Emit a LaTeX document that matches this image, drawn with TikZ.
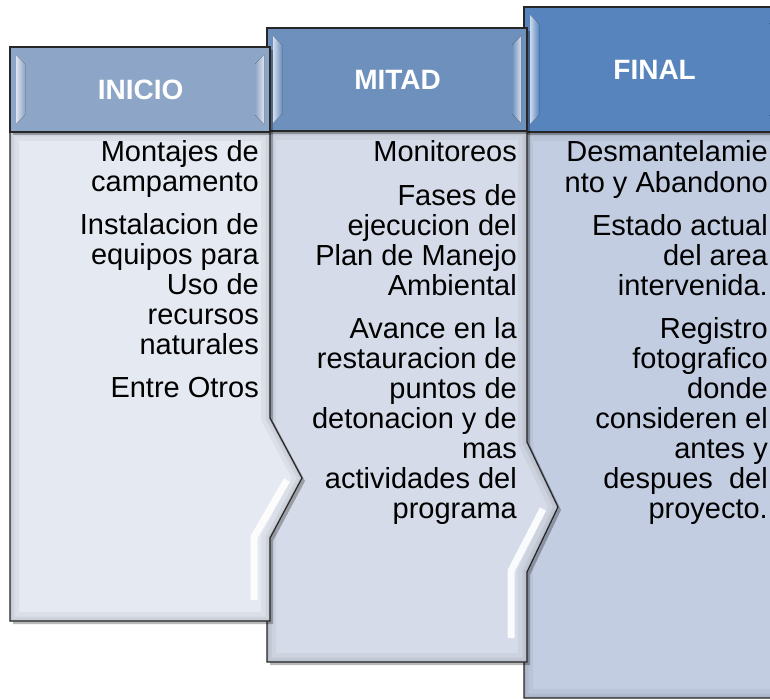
\documentclass[tikz,border=0pt]{standalone}
\usepackage{fontspec}
\setmainfont{Liberation Sans}
\definecolor{hA}{HTML}{8DA5C6}
\definecolor{hB}{HTML}{6E90BD}
\definecolor{hC}{HTML}{5884BE}
\definecolor{bA}{HTML}{E4E9F2}
\definecolor{bB}{HTML}{D5DBE8}
\definecolor{bC}{HTML}{C2CDE1}
\tikzset{
  outline/.style={draw=black!85, line width=1.2pt, line join=miter},
  headbox/.style={rectangle, outline, inner sep=0pt, anchor=north west,
    text=white, font={\fontsize{28}{30}\selectfont\bfseries}},
  bodytext/.style={inner sep=0pt, align=right, anchor=north east,
    font={\fontsize{29}{30}\selectfont}},
  shade box/.style={fill=black, opacity=0.28},
  highlight/.style={draw=white, line width=7pt, opacity=0.9, line cap=butt},
}
\newcommand\innershade[1]{%
  \begin{scope}
    \clip #1;
    \draw[black, opacity=0.04, line width=18pt] #1;
    \draw[black, opacity=0.05, line width=9pt] #1;
    \draw[black, opacity=0.07, line width=3pt] #1;
  \end{scope}}
\newcommand\bevels[5]{% x0 y0 x1 y1 colour
  \fill[left color=white!70!#5, right color=#5] (#1+6,#2+8) -- (#1+15,#2+17) -- (#1+15,#4-17) -- (#1+6,#4-8) -- cycle;
  \fill[right color=white!70!#5, left color=#5] (#3-6,#2+8) -- (#3-15,#2+17) -- (#3-15,#4-17) -- (#3-6,#4-8) -- cycle;}
\begin{document}
\begin{tikzpicture}[x=1pt,y=-1pt]
\useasboundingbox (0,0) rectangle (770,700);
\clip (0,0) rectangle (770,700);
\fill[white] (0,0) rectangle (770,700);

% ---------- FINAL ----------
\def\pC{(524,132) -- (784,132) -- (784,460) -- (815,525) -- (784,590) -- (784,698) -- (524,698) -- cycle}
\fill[bC] \pC;
\innershade{\pC}
\draw[outline] \pC;
\fill[shade box] (527,10) rectangle (787,135);
\node[headbox, fill=hC, minimum width=260pt, minimum height=125pt] (hC) at (524,7) {};
\bevels{524}{7}{784}{132}{hC}
\draw[outline] (524,7) rectangle (784,132);
\node[text=white, font={\fontsize{28}{30}\selectfont\bfseries}] (tC) at (hC.center) {FINAL};
\node[bodytext] (bC) at (768,140.7) {\strut Desmantelamie\\nto y Abandono\\[13pt]Estado actual\\del area\\intervenida.\\[13pt]Registro\\fotografico\\donde\\consideren el\\antes y\\despues\ \ del\\proyecto.};

% ---------- MITAD ----------
\def\pB{(267,131) -- (527,131) -- (527,442) -- (558,507) -- (527,572) -- (527,662) -- (267,662) -- cycle}
\fill[shade box] (270,134) -- (530,134) -- (530,445) -- (561,510) -- (530,575) -- (530,665) -- (270,665) -- cycle;
\fill[bB] \pB;
\innershade{\pB}
\draw[highlight] (543,509) -- (511,571) -- (511,638);
\draw[outline] \pB;
\fill[shade box] (270,31) rectangle (530,134);
\node[headbox, fill=hB, minimum width=260pt, minimum height=103pt] (hB) at (267,28) {};
\bevels{267}{28}{527}{131}{hB}
\draw[outline] (267,28) rectangle (527,131);
\node[text=white, font={\fontsize{28}{30}\selectfont\bfseries}] (tB) at (hB.center) {MITAD};
\node[bodytext] (bB) at (517,140.7) {\strut Monitoreos\\[13pt]Fases de\\ejecucion del\\Plan de Manejo\\Ambiental\\[13pt]Avance en la\\restauracion de\\puntos de\\detonacion y de\\mas\\actividades del\\programa};

% ---------- INICIO ----------
\def\pA{(10,132) -- (270,132) -- (270,418) -- (302,478) -- (270,538) -- (270,621) -- (10,621) -- cycle}
\fill[shade box] (13,135) -- (273,135) -- (273,421) -- (305,481) -- (273,541) -- (273,624) -- (13,624) -- cycle;
\fill[bA] \pA;
\innershade{\pA}
\draw[highlight] (287,480) -- (254,537) -- (254,600);
\draw[outline] \pA;
\fill[shade box] (13,50) rectangle (273,135);
\node[headbox, fill=hA, minimum width=260pt, minimum height=85pt] (hA) at (10,47) {};
\bevels{10}{47}{270}{132}{hA}
\draw[outline] (10,47) rectangle (270,132);
\node[text=white, font={\fontsize{28}{30}\selectfont\bfseries}] (tA) at (hA.center) {INICIO};
\node[bodytext] (bA) at (259,140.7) {\strut Montajes de\\campamento\\[13pt]Instalacion de\\equipos para\\Uso de\\recursos\\naturales\\[13pt]Entre Otros};
\end{tikzpicture}
\end{document}
